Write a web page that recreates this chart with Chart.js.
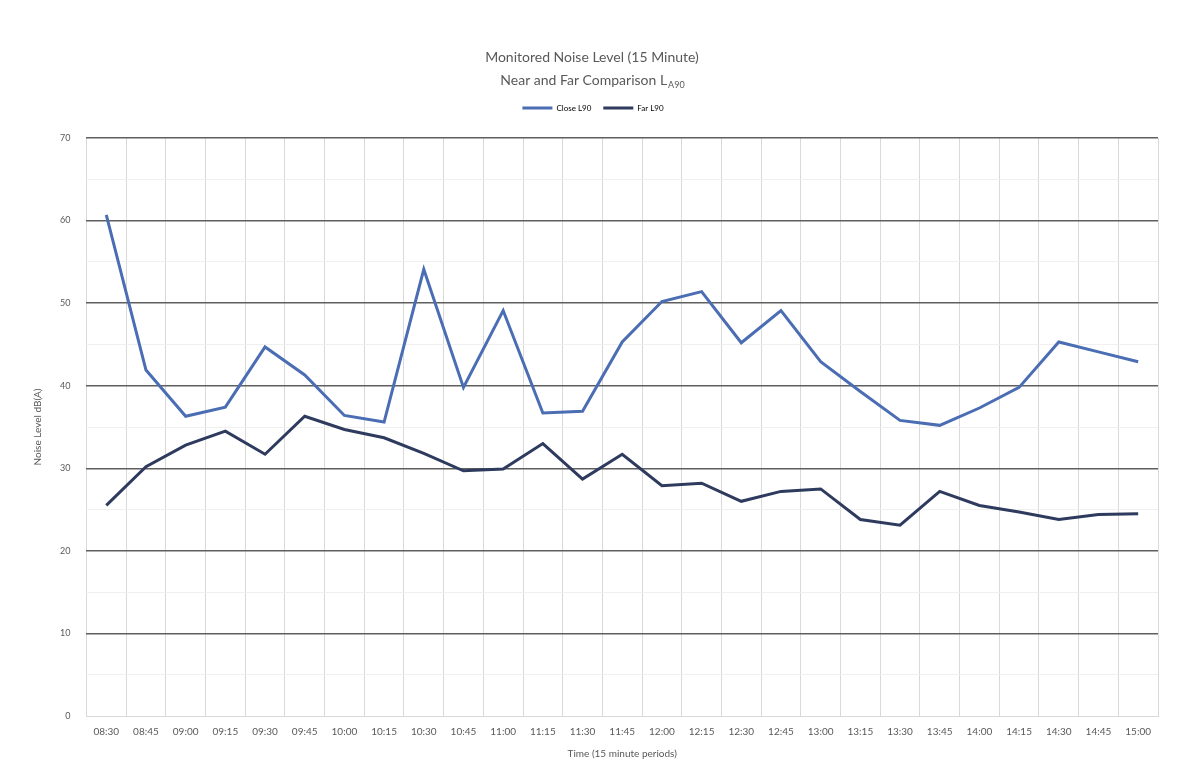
<!DOCTYPE html>
<html>
<head>
<meta charset="utf-8">
<script src="https://cdn.jsdelivr.net/npm/chart.js@4/dist/chart.umd.min.js"></script>
<style>
  html, body { margin: 0; padding: 0; background: #fff; }
  #wrap { width: 1184px; height: 780px; position: relative; }
</style>
</head>
<body>
<div id="wrap"><canvas id="myChart"></canvas></div>
<script>
const TimeLabels = ['08:30','08:45','09:00','09:15','09:30','09:45','10:00','10:15','10:30','10:45',
  '11:00','11:15','11:30','11:45','12:00','12:15','12:30','12:45','13:00','13:15',
  '13:30','13:45','14:00','14:15','14:30','14:45','15:00']
const CloseL90 = [60.7, 41.9, 36.3, 37.4, 44.7, 41.3, 36.4, 35.6, 54.1, 39.8,
  49.1, 36.7, 36.9, 45.3, 50.2, 51.4, 45.2, 49.1, 42.9, 39.3,
  35.8, 35.2, 37.3, 39.8, 45.3, 44.1, 42.9]
const FarL90 = [25.5, 30.2, 32.8, 34.5, 31.7, 36.3, 34.7, 33.7, 31.8, 29.7,
  29.9, 33.0, 28.7, 31.7, 27.9, 28.2, 26.0, 27.2, 27.5, 23.8,
  23.1, 27.2, 25.5, 24.7, 23.8, 24.4, 24.5]
const SeriesNames = ['Close L90', 'Far L90']
const TitleLine1 = 'Monitored Noise Level (15 Minute)'
const TitleLine2 = 'Near and Far Comparison L'
const TitleSub = 'A90'

const FONT = 'Lato, "Open Sans", sans-serif'
const TEXT = '#595959'

// title with subscript, drawn on the canvas
const titlePlugin = {
  id: 'subTitle',
  beforeInit(chart) {
    // extra room under the legend
    const fit = chart.legend.fit
    chart.legend.fit = function () {
      fit.call(this)
      this.height += 16
    }
  },
  afterDraw(chart) {
    const c = chart.ctx
    const cx = chart.width / 2
    c.save()
    c.fillStyle = TEXT
    c.textBaseline = 'middle'
    c.textAlign = 'left'
    c.font = '14px ' + FONT
    let w1 = c.measureText(TitleLine1).width
    c.fillText(TitleLine1, cx - w1 / 2, 57)
    let w2 = c.measureText(TitleLine2).width
    c.font = '9px ' + FONT
    let ws = c.measureText(TitleSub).width
    let x0 = cx - (w2 + ws) / 2
    c.font = '14px ' + FONT
    c.fillText(TitleLine2, x0, 80)
    c.font = '9px ' + FONT
    c.fillText(TitleSub, x0 + w2 + 1, 85)
    c.restore()
  }
}

const ctx = document.getElementById('myChart')
Chart.defaults.font.family = FONT
Chart.defaults.color = TEXT

new Chart(ctx, {
  type: 'line',
  data: {
    labels: TimeLabels,
    datasets: [{
      label: SeriesNames[0],
      data: CloseL90,
      borderColor: '#4a6db3',
      backgroundColor: '#4a6db3',
      borderWidth: 3,
      pointRadius: 0,
      tension: 0,
      fill: false,
    }, {
      label: SeriesNames[1],
      data: FarL90,
      borderColor: '#2e3b5e',
      backgroundColor: '#2e3b5e',
      borderWidth: 3,
      pointRadius: 0,
      tension: 0,
      fill: false,
    }],
  },
  options: {
    responsive: true,
    maintainAspectRatio: false,
    animation: false,
    layout: { padding: { top: 92, right: 26, bottom: 16, left: 28 } },
    plugins: {
      title: { display: false },
      tooltip: { enabled: false },
      legend: {
        position: 'top',
        labels: {
          boxWidth: 30,
          boxHeight: 0,
          font: { size: 8 },
          color: TEXT,
          padding: 12,
          generateLabels(chart) {
            return chart.data.datasets.map((d, i) => ({
              text: d.label,
              strokeStyle: d.borderColor,
              fillStyle: d.borderColor,
              lineWidth: 3,
              datasetIndex: i,
            }))
          }
        }
      }
    },
    scales: {
      x: {
        offset: true,
        grid: { offset: true, color: '#d9d9d9', lineWidth: 1, drawTicks: false },
        border: { color: '#d9d9d9' },
        ticks: { font: { size: 10 }, color: TEXT, maxRotation: 0, autoSkip: false, padding: 10 },
        title: { display: true, text: 'Time (15 minute periods)', font: { size: 10 }, color: TEXT, padding: { top: 0 } }
      },
      y: {
        min: 0,
        max: 70,
        grid: {
          drawTicks: false,
          color: c => c.tick && c.tick.value % 10 === 0 && c.tick.value !== 0 ? '#5f5f5f' : '#f0f0f0',
          lineWidth: c => c.tick && c.tick.value % 10 === 0 && c.tick.value !== 0 ? 1.5 : 1,
        },
        border: { display: false },
        ticks: {
          stepSize: 5,
          font: { size: 9 },
          color: TEXT,
          padding: 16,
          callback: v => v % 10 === 0 ? v : ''
        },
        title: { display: true, text: 'Noise Level dB(A)', font: { size: 10 }, color: TEXT, padding: { bottom: 0 } }
      }
    }
  },
  plugins: [titlePlugin]
})
</script>
</body>
</html>
